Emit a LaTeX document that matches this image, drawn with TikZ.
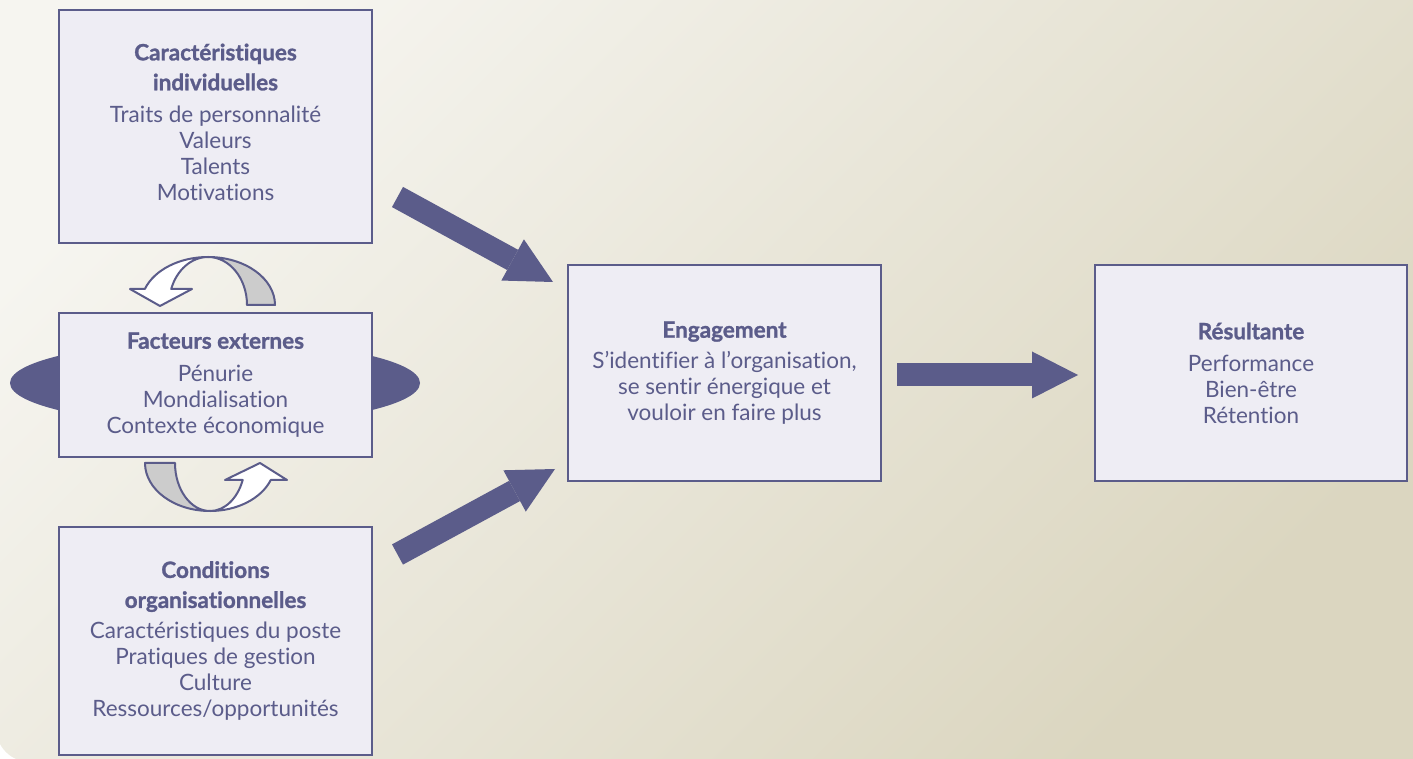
\documentclass[tikz,border=0pt]{standalone}
\usepackage{fontspec}
\setmainfont{Lato}[Ligatures=NoCommon, BoldFeatures={FakeBold=1.2}]
\usetikzlibrary{arrows.meta}
\definecolor{ink}{RGB}{91,92,138}
\definecolor{boxfill}{RGB}{238,237,244}
\definecolor{bgA}{RGB}{246,245,240}
\definecolor{bgB}{RGB}{219,214,192}
\definecolor{backgrey}{RGB}{204,204,204}
\begin{document}
\begin{tikzpicture}[x=1pt,y=1pt,
  box/.style={draw=ink, line width=2.5pt, fill=boxfill, text=ink, align=center,
    inner sep=0pt, font=\fontsize{22.5}{26}\selectfont, minimum width=313pt},
  bigarrow/.style={draw=ink, line width=23pt,
    -{Triangle[length=46pt 0 0, width=47pt 0 0, line width=0pt]}},
  turnback/.style={fill=backgrey, draw=ink, line width=2pt, line join=round},
  turnfront/.style={fill=white, draw=ink, line width=2pt, line join=round}]
\useasboundingbox (0,0) rectangle (1413,758);
% background
\shade[top color=bgA, bottom color=bgB, shading angle=45]
  (-4,800) -- (-4,60) [rounded corners=34pt] -- (-4,-4) [rounded corners=8pt] -- (1416,-4) [sharp corners] -- (1416,800) -- cycle;
% ellipse behind external factors
\fill[ink] (215,375) ellipse[x radius=205, y radius=42];
% boxes
\node[box, minimum height=233pt] (ind) at (215.5,631.5)
  {\textbf{Caractéristiques}\\[4pt]\textbf{individuelles}\\[6pt]Traits de personnalité\\Valeurs\\Talents\\Motivations\\[-17pt]\mbox{}};
\node[box, minimum height=144pt] (ext) at (215.5,373)
  {\textbf{Facteurs externes}\\[7pt]Pénurie\\Mondialisation\\Contexte économique};
\node[box, minimum height=228pt] (org) at (215.5,117)
  {\textbf{Conditions}\\[4pt]\textbf{organisationnelles}\\[5pt]Caractéristiques du poste\\Pratiques de gestion\\Culture\\Ressources/opportunités};
\node[box, minimum height=216pt] (eng) at (724.5,385)
  {\textbf{Engagement}\\[5pt]S’identifier à l’organisation,\\se sentir énergique et\\vouloir en faire plus};
\node[box, minimum width=312pt, minimum height=216pt] (res) at (1251,385)
  {\textbf{Résultante}\\[6pt]Performance\\Bien-être\\Rétention};
% big arrows
\coordinate (a1) at (397.5,561);
\coordinate (a2) at (553,476);
\coordinate (b1) at (397.5,203.5);
\coordinate (b2) at (555,289);
\coordinate (c1) at (897,383);
\coordinate (c2) at (1078,383);
\draw[bigarrow] (a1) -- (a2);
\draw[bigarrow] (b1) -- (b2);
\draw[bigarrow] (c1) -- (c2);
% upper U-turn arrow
\draw[turnback] (275,453) arc[start angle=0,end angle=90,x radius=67,y radius=48]
  arc[start angle=90,end angle=0,x radius=39,y radius=48] -- cycle;
\draw[turnfront] (208,501) arc[start angle=90,end angle=160.5,x radius=67,y radius=48]
  -- (130,469) -- (160,452) -- (192,469) -- (171.2,469)
  arc[start angle=160.5,end angle=90,x radius=39,y radius=48] -- cycle;
% lower U-turn arrow
\draw[turnback] (145,295) arc[start angle=180,end angle=270,x radius=65,y radius=48]
  arc[start angle=270,end angle=180,x radius=35,y radius=48] -- cycle;
\draw[turnfront] (210,247) arc[start angle=270,end angle=339.3,x radius=65,y radius=48]
  -- (287,278) -- (260,295) -- (225,278) -- (242.7,278)
  arc[start angle=339.3,end angle=270,x radius=35,y radius=48] -- cycle;
\end{tikzpicture}
\end{document}
